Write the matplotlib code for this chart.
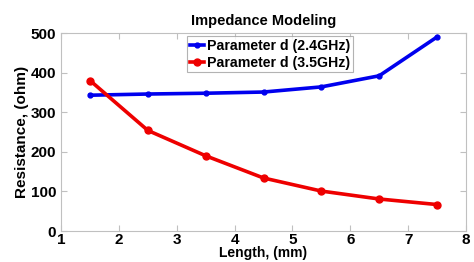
import matplotlib.pyplot as plt

plt.rcParams['font.family'] = ['Liberation Sans', 'DejaVu Sans']
plt.rcParams['font.weight'] = 'bold'

length = [1.5, 2.5, 3.5, 4.5, 5.5, 6.5, 7.5]
res_24 = [343, 346, 348, 351, 364, 392, 490]
res_35 = [380, 254, 190, 134, 101, 81, 67]

fig = plt.figure(figsize=(4.74, 2.62), dpi=100)
ax = fig.add_axes([0.129, 0.118, 0.854, 0.756])

ax.plot(length, res_24, color='#0000ee', lw=2.6, marker='o', ms=3.5,
        label='Parameter d (2.4GHz)')
ax.plot(length, res_35, color='#ee0000', lw=2.6, marker='o', ms=5,
        label='Parameter d (3.5GHz)')

ax.set_xlim(1, 8)
ax.set_ylim(0, 500)
ax.set_xticks(range(1, 9))
ax.set_yticks(range(0, 501, 100))
ax.tick_params(direction='in', top=True, right=True, labelsize=11,
               colors='#c0c0c0', labelcolor='black', length=4, pad=1.5)
ax.tick_params(axis='y', pad=3.5)
for s in ax.spines.values():
    s.set_color('#c0c0c0')

ax.set_title('Impedance Modeling', fontsize=10.5, fontweight='bold', pad=6)
ax.set_xlabel('Length, (mm)', fontsize=10, fontweight='bold', labelpad=-1)
ax.set_ylabel('Resistance, (ohm)', fontsize=11, fontweight='bold', labelpad=1)

leg = ax.legend(loc='upper left', bbox_to_anchor=(0.305, 1.0), fontsize=10.2,
                handlelength=1.0, handletextpad=0.2, borderpad=0.2,
                labelspacing=0.2, fancybox=False, borderaxespad=0.2)
leg.get_frame().set_edgecolor('#a0a0a0')
leg.get_frame().set_linewidth(0.8)

fig.savefig('out.png', dpi=100)
